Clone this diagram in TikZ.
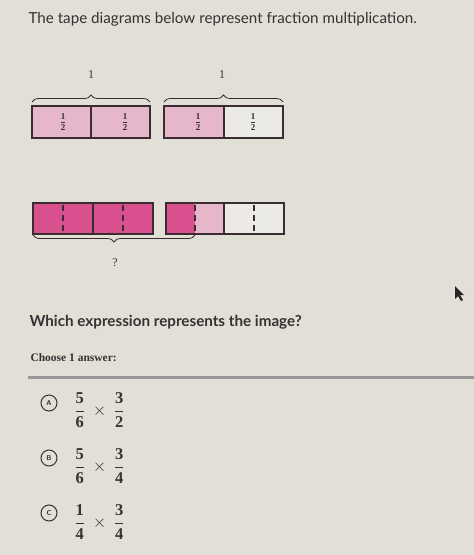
\documentclass[tikz,border=0pt]{standalone}
\usepackage{amsmath}
\usepackage{fontspec}
\setmainfont{Liberation Serif}
\newfontfamily\lato{Lato}
\newfontfamily\latobold{Lato Bold}
\usetikzlibrary{decorations.pathreplacing}
\definecolor{bg}{HTML}{E2DFD7}
\definecolor{deep}{HTML}{D9508F}
\definecolor{light}{HTML}{E6B6CA}
\definecolor{blank}{HTML}{ECEAE4}
\definecolor{edge}{HTML}{3A2C32}
\definecolor{ink}{HTML}{333333}
\newcommand{\optfr}[2]{\genfrac{}{}{0.3pt}{0}{\mathbf{#1}\rule[-2pt]{0pt}{2pt}}{\rule{0pt}{13.5pt}\mathbf{#2}}}
\newcommand{\halffr}{\genfrac{}{}{0.5pt}{0}{\mathbf{1}}{\mathbf{2}}}
\begin{document}
\begin{tikzpicture}[x=1pt,y=-1pt,
  cell/.style={draw=edge,line width=1.1pt},
  dashdiv/.style={edge,line width=1.1pt,dash pattern=on 6pt off 4pt},
  brace/.style={draw=edge,line width=0.8pt,decorate,decoration={brace,amplitude=7pt}},
  half/.style={font=\fontsize{9}{10}\selectfont,text=ink},
  opt/.style={draw=ink,line width=1pt,circle,minimum size=16pt,inner sep=0pt,font=\sffamily\bfseries\fontsize{7}{7}\selectfont,text=ink},
  bigfrac/.style={anchor=west,font=\fontsize{16.5}{20}\selectfont,text=ink}]
\fill[bg] (0,0) rectangle (474,555);
\useasboundingbox (0,0) rectangle (474,555);
% title
\node[anchor=west,text=ink,font=\lato\fontsize{15.2}{18}\selectfont] (title) at (25,19) {The tape diagrams below represent fraction multiplication.};
% top tapes
\fill[light] (32,106) rectangle (150,138);
\draw[cell] (32,106) rectangle (150,138);
\draw[cell] (91,106) -- (91,138);
\fill[light] (164,106) rectangle (224,138);
\fill[blank] (224,106) rectangle (283,138);
\draw[cell] (164,106) rectangle (283,138);
\draw[cell] (224,106) -- (224,138);
\node[half] (h1) at (63,122) {$\halffr$};
\node[half] (h2) at (125,122) {$\halffr$};
\node[half] (h3) at (198,122) {$\halffr$};
\node[half] (h4) at (253,122) {$\halffr$};
\coordinate (b1l) at (32,102);
\coordinate (b1r) at (150,102);
\coordinate (b2l) at (164,102);
\coordinate (b2r) at (283,102);
\draw[brace] (b1l) -- (b1r);
\draw[brace] (b2l) -- (b2r);
\node[font=\fontsize{12}{14}\selectfont,text=ink] (one1) at (91,75) {1};
\node[font=\fontsize{12}{14}\selectfont,text=ink] (one2) at (222,75) {1};
% bottom tapes
\fill[deep] (33,203) rectangle (153,234);
\draw[cell] (33,203) rectangle (153,234);
\draw[cell] (93,203) -- (93,234);
\draw[dashdiv] (63,205) -- (63,233);
\draw[dashdiv] (123,205) -- (123,233);
\fill[deep] (166,203) rectangle (195,234);
\fill[light] (195,203) rectangle (224,234);
\fill[blank] (224,203) rectangle (284,234);
\draw[cell] (166,203) rectangle (284,234);
\draw[cell] (224,203) -- (224,234);
\draw[dashdiv] (195,205) -- (195,233);
\draw[dashdiv] (254,205) -- (254,233);
\coordinate (b3l) at (33,235);
\coordinate (b3r) at (195,235);
\draw[brace] (b3r) -- (b3l);
\node[font=\fontsize{12}{14}\selectfont,text=ink] (q) at (115,263) {?};
% cursor
\fill[black!85] (455,286) -- (455,299) -- (458,296) -- (461,301) -- (463,300) -- (460,295) -- (464,295) -- cycle;
% question
\node[anchor=west,text=ink,font=\latobold\fontsize{15.2}{18}\selectfont] (qtext) at (26,322) {Which expression represents the image?};
\node[anchor=west,text=ink,font=\bfseries\fontsize{11.5}{14}\selectfont] (choose) at (27,358) {Choose 1 answer:};
\draw[gray!80,line width=3pt] (28,377) -- (474,377);
% options
\node[opt] (A) at (49,403) {A};
\node[bigfrac] (fa) at (71,410) {$\optfr{5}{6}\mkern4mu\times\mkern4mu\optfr{3}{2}$};
\node[opt] (B) at (49,458) {B};
\node[bigfrac] (fb) at (71,466) {$\optfr{5}{6}\mkern4mu\times\mkern4mu\optfr{3}{4}$};
\node[opt] (C) at (49,513) {C};
\node[bigfrac] (fc) at (71,522) {$\optfr{1}{4}\mkern4mu\times\mkern4mu\optfr{3}{4}$};
\end{tikzpicture}
\end{document}
